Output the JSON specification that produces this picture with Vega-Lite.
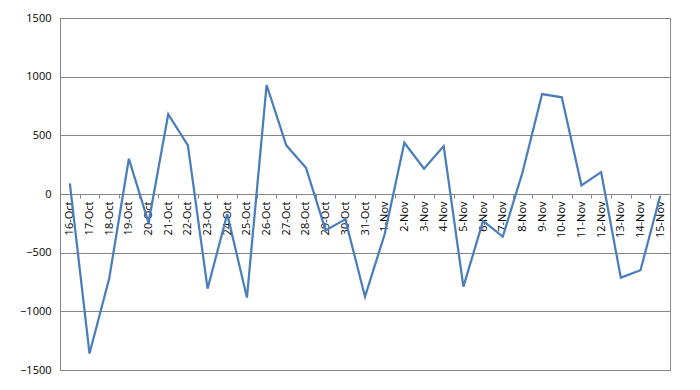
{
  "$schema": "https://vega.github.io/schema/vega-lite/v6.json",
  "width": 610,
  "height": 352,
  "autosize": {"type": "none"},
  "padding": {"left": 60, "top": 18, "right": 30, "bottom": 20},
  "background": "white",
  "config": {
    "view": {"stroke": "#868686", "strokeWidth": 1},
    "font": "Open Sans"
  },
  "data": {
    "values": [
      {"date": "16-Oct", "value": 90},
      {"date": "17-Oct", "value": -1360},
      {"date": "18-Oct", "value": -720},
      {"date": "19-Oct", "value": 300},
      {"date": "20-Oct", "value": -245},
      {"date": "21-Oct", "value": 680},
      {"date": "22-Oct", "value": 415},
      {"date": "23-Oct", "value": -807},
      {"date": "24-Oct", "value": -170},
      {"date": "25-Oct", "value": -883},
      {"date": "26-Oct", "value": 929},
      {"date": "27-Oct", "value": 415},
      {"date": "28-Oct", "value": 224},
      {"date": "29-Oct", "value": -309},
      {"date": "30-Oct", "value": -216},
      {"date": "31-Oct", "value": -875},
      {"date": "1-Nov", "value": -343},
      {"date": "2-Nov", "value": 437},
      {"date": "3-Nov", "value": 216},
      {"date": "4-Nov", "value": 409},
      {"date": "5-Nov", "value": -790},
      {"date": "6-Nov", "value": -230},
      {"date": "7-Nov", "value": -364},
      {"date": "8-Nov", "value": 181},
      {"date": "9-Nov", "value": 852},
      {"date": "10-Nov", "value": 824},
      {"date": "11-Nov", "value": 74},
      {"date": "12-Nov", "value": 187},
      {"date": "13-Nov", "value": -713},
      {"date": "14-Nov", "value": -650},
      {"date": "15-Nov", "value": -17}
    ]
  },
  "mark": {"type": "line", "color": "#4A7EBB", "strokeWidth": 2.25},
  "encoding": {
    "x": {
      "field": "date",
      "type": "ordinal",
      "sort": null,
      "scale": {"type": "point", "padding": 0.5},
      "axis": {
        "title": null,
        "offset": -176,
        "labelAngle": 270,
        "labelFontSize": 11,
        "labelColor": "#000000",
        "labelPadding": 3,
        "domainColor": "#868686",
        "tickColor": "#868686",
        "tickSize": 4,
        "tickOffset": -9.84,
        "labelOffset": 9.84,
        "grid": false,
        "zindex": 0
      }
    },
    "y": {
      "field": "value",
      "type": "quantitative",
      "scale": {"domain": [-1500, 1500], "nice": false},
      "axis": {
        "title": null,
        "values": [-1500, -1000, -500, 0, 500, 1000, 1500],
        "format": "d",
        "labelFontSize": 11,
        "labelColor": "#000000",
        "labelPadding": 9,
        "ticks": false,
        "domainColor": "#868686",
        "gridColor": "#868686",
        "gridOpacity": 1,
        "zindex": 0
      }
    }
  }
}
